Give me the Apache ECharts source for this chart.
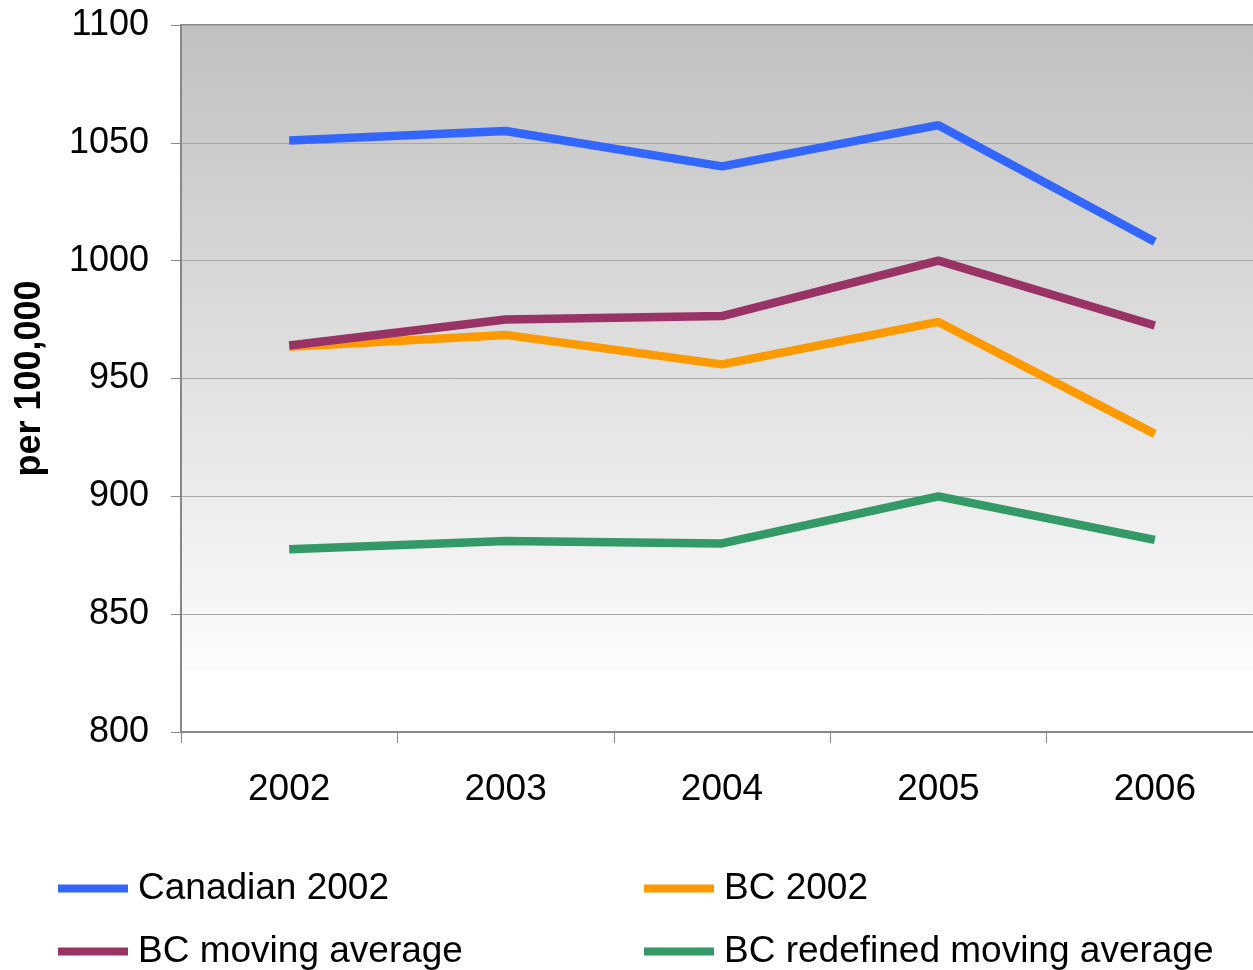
<!DOCTYPE html>
<html>
<head>
<meta charset="utf-8">
<script src="https://cdn.jsdelivr.net/npm/echarts@6/dist/echarts.min.js"></script>
<style>
html,body{margin:0;padding:0;background:#fff;}
#chart{width:1253px;height:970px;}
</style>
</head>
<body>
<div id="chart"></div>
<script>
var categories = ['2002', '2003', '2004', '2005', '2006'];
var canadian2002 = [1051, 1055, 1040, 1057.5, 1008];
var bc2002 = [963.5, 968.5, 956, 974, 926.5];
var bcMovingAverage = [964, 975, 976.5, 1000, 972.5];
var bcRedefinedMovingAverage = [877.5, 881, 880, 900, 881.5];
var seriesNames = ['Canadian 2002', 'BC 2002', 'BC moving average', 'BC redefined moving average'];
var seriesColors = ['#3366FF', '#FF9900', '#993366', '#339966'];

var chart = echarts.init(document.getElementById('chart'));
var font = '"Liberation Sans", Arial, sans-serif';
var iconRect = 'path://M0,0H70V8H0Z';

function mkSeries(i, data) {
  return {
    name: seriesNames[i], type: 'line', data: data,
    symbol: 'none', lineStyle: { width: 8.5, color: seriesColors[i] },
    itemStyle: { color: seriesColors[i] }, animation: false
  };
}

function mkLegend(left, names) {
  return {
    orient: 'vertical', left: left, top: 870, height: 100, padding: 0,
    itemWidth: 70, itemHeight: 8, itemGap: 26,
    icon: iconRect, data: names,
    textStyle: { fontFamily: font, fontSize: 37, color: '#000', lineHeight: 36, padding: [0,0,0,5] }
  };
}

chart.setOption({
  animation: false,
  backgroundColor: '#fff',
  grid: {
    left: 181, top: 25, bottom: 238, right: -10, show: true,
    outerBoundsMode: 'none', containLabel: false,
    borderColor: '#888', borderWidth: 2,
    backgroundColor: new echarts.graphic.LinearGradient(0, 0, 0, 1, [
      { offset: 0, color: '#C0C0C0' },
      { offset: 0.91, color: '#FCFCFC' },
      { offset: 0.915, color: '#FFFFFF' },
      { offset: 1, color: '#FFFFFF' }
    ])
  },
  legend: [
    mkLegend(58, [seriesNames[0], seriesNames[2]]),
    mkLegend(644, [seriesNames[1], seriesNames[3]])
  ],
  xAxis: {
    type: 'category', data: categories, boundaryGap: true,
    axisLine: { lineStyle: { color: '#888', width: 2 } },
    axisTick: { show: true, length: 11, lineStyle: { color: '#888', width: 1 } },
    axisLabel: { fontFamily: font, fontSize: 37, color: '#000', margin: 39 }
  },
  yAxis: {
    type: 'value', min: 800, max: 1100, interval: 50,
    name: 'per 100,000', nameLocation: 'middle', nameGap: 133, nameRotate: 90,
    nameTextStyle: { fontFamily: font, fontSize: 36, fontWeight: 'bold', color: '#000' },
    axisLine: { show: true, lineStyle: { color: '#888', width: 2 } },
    axisTick: { show: true, length: 10, lineStyle: { color: '#888', width: 1 } },
    axisLabel: { fontFamily: font, fontSize: 36, color: '#000', margin: 32,
      formatter: function (v) { return String(v); } },
    splitLine: { show: true, lineStyle: { color: '#A8A8A8', width: 1 } }
  },
  series: [
    mkSeries(0, canadian2002),
    mkSeries(1, bc2002),
    mkSeries(2, bcMovingAverage),
    mkSeries(3, bcRedefinedMovingAverage)
  ]
});
</script>
</body>
</html>
